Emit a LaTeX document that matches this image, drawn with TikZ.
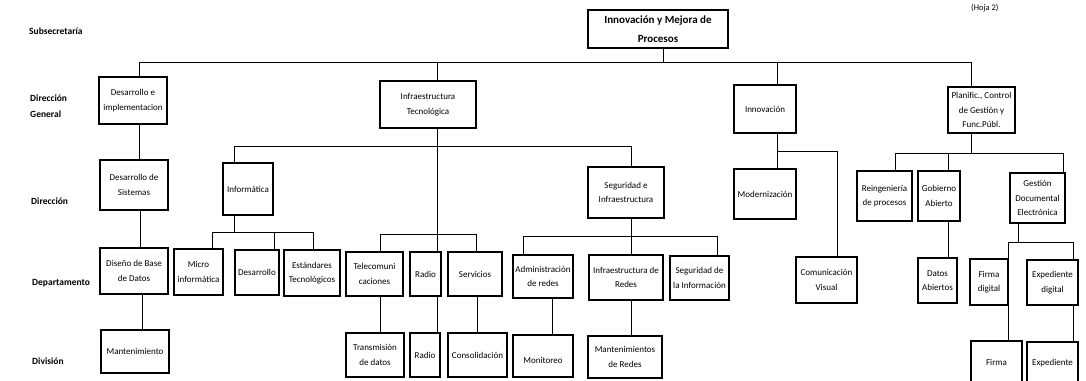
\documentclass[tikz,border=0pt]{standalone}
\usepackage{fontspec}
\setmainfont{Carlito}
\begin{document}
\begin{tikzpicture}[x=1pt,y=-1pt,
  unit/.style={draw=black, line width=1.1pt, align=center, inner sep=1pt,
               font=\fontsize{9}{14.5}\selectfont},
  headunit/.style={unit, font=\fontsize{11}{19}\selectfont\bfseries},
  link/.style={draw=black, line width=1pt},
  level/.style={anchor=west, align=left, inner sep=0pt,
                font=\fontsize{9.5}{16}\selectfont\bfseries}]
\useasboundingbox (0,0) rectangle (1086,380);
\clip (0,0) rectangle (1086,380);

% ---- hierarchy level captions ----
\node[level] (lsub) at (29,31) {Subsecretaría};
\node[level] (ldg)  at (30,106) {Dirección\\General};
\node[level] (ldir) at (31,201) {Dirección};
\node[level] (ldep) at (32,283) {Departamento};
\node[level] (ldiv) at (32,361) {División};
\node[anchor=west, inner sep=0pt, font=\fontsize{8.5}{10}\selectfont] (hoja) at (971,8) {(Hoja 2)};

% ---- Subsecretaría ----
\node[headunit, minimum width=140pt, minimum height=38pt] (top) at (658,29) {Innovación y Mejora de\\Procesos};

% ---- Dirección General ----
\node[unit, minimum width=68pt, minimum height=47pt] (desimp) at (133,100.5) {Desarrollo e\\implementacion};
\node[unit, minimum width=96pt, minimum height=47pt] (inftec) at (428,104.5) {Infraestructura\\Tecnológica};
\node[unit, minimum width=62pt, minimum height=48pt] (innov)  at (765,109) {Innovación};
\node[unit, minimum width=67pt, minimum height=46pt] (planif) at (981.5,110) {Planific., Control\\de Gestión y\\Func.Públ.};

% ---- Dirección ----
\node[unit, minimum width=68pt, minimum height=50pt] (dessis) at (134,185) {Desarrollo de\\Sistemas};
\node[unit, minimum width=50pt, minimum height=52pt] (informatica) at (248,189) {Informática};
\node[unit, minimum width=76pt, minimum height=51pt] (seginf) at (626,192.5) {Seguridad e\\Infraestructura};
\node[unit, minimum width=62pt, minimum height=50pt] (modern) at (765,194) {Modernización};
\node[unit, minimum width=55pt, minimum height=50pt] (reing)  at (884.5,196) {Reingeniería\\de procesos};
\node[unit, minimum width=42pt, minimum height=50pt] (gobab)  at (939,196) {Gobierno\\Abierto};
\node[unit, minimum width=55pt, minimum height=50pt] (gesdoc) at (1037.5,198) {Gestión\\Documental\\Electrónica};

% ---- Departamento ----
\node[unit, minimum width=68pt, minimum height=46pt] (diseno) at (134,271) {Diseño de Base\\de Datos};
\node[unit, minimum width=49pt, minimum height=46pt] (micro)  at (198.5,272) {Micro\\informática};
\node[unit, minimum width=44pt, minimum height=45pt] (desarr) at (257,272.5) {Desarrollo};
\node[unit, minimum width=56pt, minimum height=46pt] (estand) at (312,273) {Estándares\\Tecnológicos};
\node[unit, minimum width=57pt, minimum height=44pt] (telecom) at (374.5,274) {Telecomuni\\caciones};
\node[unit, minimum width=31pt, minimum height=44pt] (radio)  at (425.5,274) {Radio};
\node[unit, minimum width=54pt, minimum height=44pt] (servic) at (475,274) {Servicios};
\node[unit, minimum width=60pt, minimum height=43pt] (admin)  at (543,276.5) {Administración\\de redes};
\node[unit, minimum width=74pt, minimum height=45pt] (infred) at (626,277.5) {Infraestructura de\\Redes};
\node[unit, minimum width=59pt, minimum height=44pt] (segi)   at (699.5,278) {Seguridad de\\la Información};
\node[unit, minimum width=61pt, minimum height=46pt] (comvis) at (826.5,280) {Comunicación\\Visual};
\node[unit, minimum width=39pt, minimum height=45pt] (datab)  at (937.5,280.5) {Datos\\Abiertos};
\node[unit, minimum width=38pt, minimum height=46pt] (firmad) at (989,282) {Firma\\digital};
\node[unit, minimum width=51pt, minimum height=45pt] (expd)   at (1052.5,282.5) {Expediente\\digital};

% ---- División ----
\node[unit, minimum width=68pt, minimum height=43pt] (mant)    at (135,351.5) {Mantenimiento};
\node[unit, minimum width=58pt, minimum height=44pt] (transm)  at (375,355) {Transmisión\\de datos};
\node[unit, minimum width=30pt, minimum height=44pt] (radiob)  at (425,355) {Radio};
\node[unit, minimum width=59pt, minimum height=44pt] (consol)  at (477.5,355) {Consolidación};
\node[unit, minimum width=60pt, minimum height=42pt] (monit)   at (543,356) {\mbox{}\\Monitoreo};
\node[unit, minimum width=74pt, minimum height=42pt] (mantred) at (625,357) {Mantenimientos\\de Redes};
\node[unit, minimum width=51pt, minimum height=42pt] (firma)   at (996.5,362) {Firma};
\node[unit, minimum width=51pt, minimum height=42pt] (exped)   at (1052.5,363) {Expediente};

% ---- bus heights ----
\coordinate (bus0) at (0,62);
\coordinate (bus1) at (0,146);
\coordinate (bus2) at (0,232);
\coordinate (bus3) at (0,234);
\coordinate (bus4) at (0,236);
\coordinate (bus5) at (0,151);
\coordinate (bus6) at (0,153);
\coordinate (bus7) at (0,242);

% top level
\draw[link] ([xshift=5pt]top.south) -- ([xshift=5pt]top.south |- bus0);
\draw[link] ([xshift=6pt]desimp.north) -- ([xshift=6pt]desimp.north |- bus0)
            -- ([xshift=-10.5pt]planif.north |- bus0) -- ([xshift=-10.5pt]planif.north);
\draw[link] ([xshift=9pt]inftec.north) -- ([xshift=9pt]inftec.north |- bus0);
\draw[link] ([xshift=12pt]innov.north) -- ([xshift=12pt]innov.north |- bus0);

% Desarrollo e implementacion branch
\draw[link] ([xshift=6pt]desimp.south) -- ([xshift=6pt]desimp.south |- dessis.north);
\draw[link] ([xshift=6pt]dessis.south) -- ([xshift=6pt]dessis.south |- diseno.north);
\draw[link] ([xshift=8pt]diseno.south) -- ([xshift=8pt]diseno.south |- mant.north);

% Infraestructura Tecnológica branch
\draw[link] ([xshift=9pt]inftec.south) -- ([xshift=9pt]inftec.south |- radio.north);
\draw[link] ([xshift=-14pt]informatica.north) -- ([xshift=-14pt]informatica.north |- bus1)
            -- ([xshift=5pt]seginf.north |- bus1) -- ([xshift=5pt]seginf.north);

% Informática departments
\draw[link] ([xshift=-14pt]informatica.south) -- ([xshift=-14pt]informatica.south |- bus2);
\draw[link] ([xshift=13.5pt]micro.north) -- ([xshift=13.5pt]micro.north |- bus2)
            -- ([xshift=1pt]estand.north |- bus2) -- ([xshift=1pt]estand.north);
\draw[link] ([xshift=17pt]desarr.north) -- ([xshift=17pt]desarr.north |- bus2);

% departments under Infraestructura Tecnológica
\draw[link] ([xshift=5.5pt]telecom.north) -- ([xshift=5.5pt]telecom.north |- bus3)
            -- ([xshift=1pt]servic.north |- bus3) -- ([xshift=1pt]servic.north);
\draw[link] ([xshift=5.5pt]telecom.south) -- ([xshift=5.5pt]telecom.south |- transm.north);
\draw[link] ([xshift=11.5pt]radio.south) -- ([xshift=11.5pt]radio.south |- radiob.north);
\draw[link] ([xshift=2pt]servic.south) -- ([xshift=2pt]servic.south |- consol.north);

% Seguridad e Infraestructura departments
\draw[link] ([xshift=5pt]seginf.south) -- ([xshift=5pt]seginf.south |- infred.north);
\draw[link] ([xshift=-20pt]admin.north) -- ([xshift=-20pt]admin.north |- bus4)
            -- ([xshift=17.5pt]segi.north |- bus4) -- ([xshift=17.5pt]segi.north);
\draw[link] ([xshift=9pt]admin.south) -- ([xshift=9pt]admin.south |- monit.north);
\draw[link] ([xshift=5pt]infred.south) -- ([xshift=5pt]infred.south |- mantred.north);

% Innovación branch
\draw[link] ([xshift=12pt]innov.south) -- ([xshift=12pt]innov.south |- modern.north);
\draw[link] ([xshift=12pt]innov.south |- bus5) -- ([xshift=10.5pt]comvis.north |- bus5)
            -- ([xshift=10.5pt]comvis.north);

% Planificación branch
\draw[link] ([xshift=-10.5pt]planif.south) -- ([xshift=-10.5pt]planif.south |- bus6);
\draw[link] ([xshift=10.5pt]reing.north) -- ([xshift=10.5pt]reing.north |- bus6)
            -- ([xshift=25.5pt]gesdoc.north |- bus6) -- ([xshift=25.5pt]gesdoc.north);
\draw[link] ([xshift=9pt]gobab.north) -- ([xshift=9pt]gobab.north |- bus6);
\draw[link] ([xshift=9pt]gobab.south) -- ([xshift=9pt]gobab.south |- datab.north);

% Gestión Documental Electrónica branch
\draw[link] ([xshift=-19.5pt]gesdoc.south) -- ([xshift=-19.5pt]gesdoc.south |- bus7);
\draw[link] ([xshift=19.5pt]firmad.north) -- ([xshift=19.5pt]firmad.north |- bus7)
            -- ([xshift=20.5pt]expd.north |- bus7) -- ([xshift=20.5pt]expd.north);
\draw[link] ([xshift=19.5pt]firmad.south) -- ([xshift=19.5pt]firmad.south |- firma.north);
\draw[link] ([xshift=20.5pt]expd.south) -- ([xshift=20.5pt]expd.south |- exped.north);
\end{tikzpicture}
\end{document}
